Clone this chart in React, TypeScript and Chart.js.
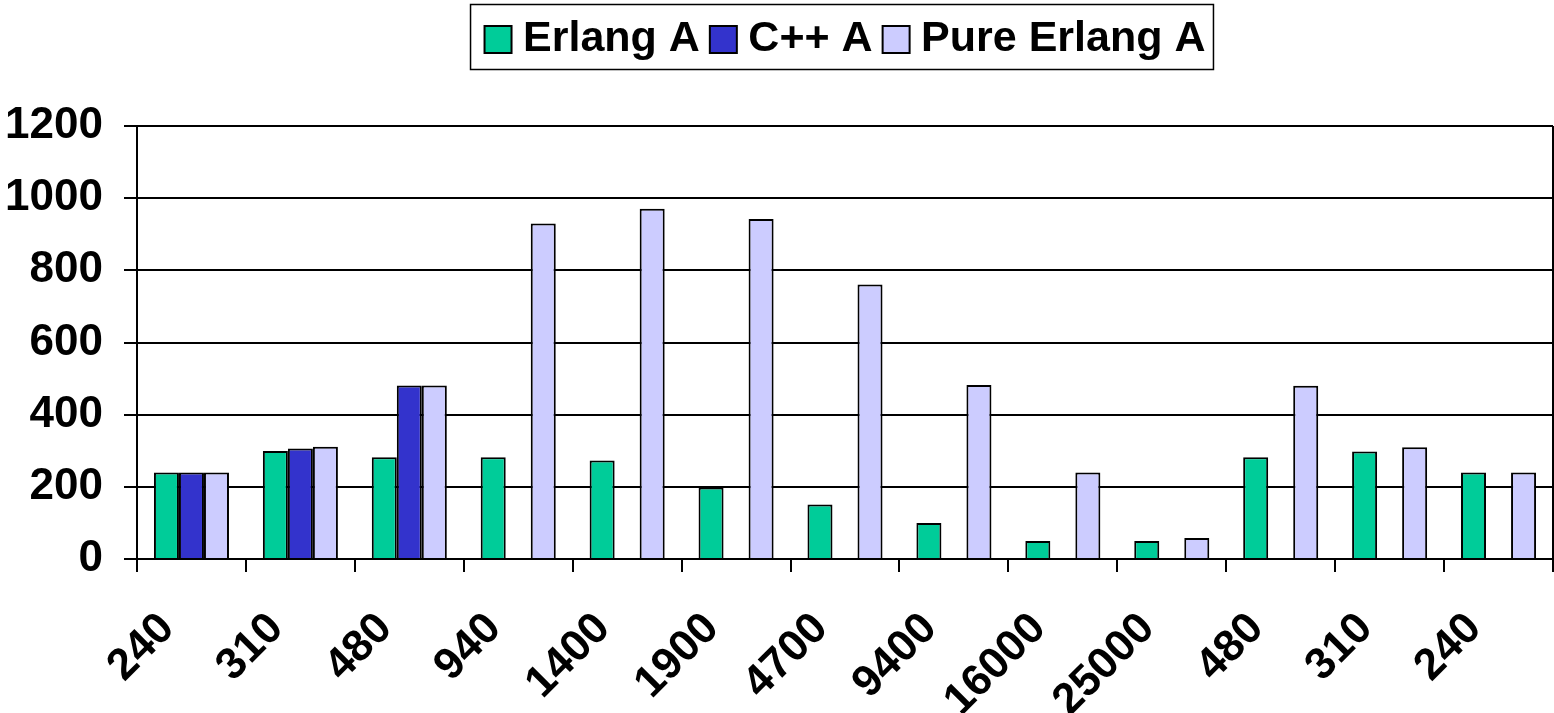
import React, { useEffect, useRef } from 'react';
import { Chart, registerables } from 'chart.js';

Chart.register(...registerables);

const categories = ['240', '310', '480', '940', '1400', '1900', '4700', '9400', '16000', '25000', '480', '310', '240'];
const erlangA = [240, 299, 282, 282, 273, 198, 151, 100, 50, 50, 282, 298, 240];
const cppA = [240, 306, 481, null, null, null, null, null, null, null, null, null, null];
const pureErlangA = [240, 311, 481, 930, 971, 942, 761, 482, 240, 58, 480, 310, 240];
const yTicks = [0, 200, 400, 600, 800, 1000, 1200];
const seriesNames = ['Erlang A', 'C++ A', 'Pure Erlang A'];
const seriesColors = ['#00CC99', '#3333CC', '#CCCCFF'];

const FONT = "'Liberation Sans', Arial, Helvetica, sans-serif";
const SWATCH = 27;

const legendSpacer = {
  id: 'legendSpacer',
  beforeInit(chart: any) {
    const legend = chart.legend;
    if (!legend) return;
    const origFit = legend.fit;
    legend.fit = function () {
      origFit.call(this);
      this.height += 55;
    };
  },
};

const frames = {
  id: 'frames',
  afterDraw(chart: any) {
    const ctx = chart.ctx;
    const ca = chart.chartArea;
    ctx.save();
    ctx.strokeStyle = '#000';
    ctx.lineWidth = 2;
    ctx.beginPath();
    ctx.moveTo(ca.right, ca.top);
    ctx.lineTo(ca.right, ca.bottom);
    ctx.stroke();
    const hb = chart.legend && chart.legend.legendHitBoxes;
    if (hb && hb.length) {
      const first = hb[0];
      const last = hb[hb.length - 1];
      // swatches
      hb.forEach((h: any, i: number) => {
        const y = h.top + (h.height - SWATCH) / 2;
        ctx.fillStyle = seriesColors[i];
        ctx.fillRect(h.left, y, SWATCH, SWATCH);
        ctx.lineWidth = 2;
        ctx.strokeRect(h.left, y, SWATCH, SWATCH);
      });
      const left = first.left - 14;
      const right = last.left + last.width + 8;
      const top = first.top - 13.5;
      const bottom = first.top + first.height + 8.5;
      ctx.lineWidth = 1.5;
      ctx.strokeRect(left, top, right - left, bottom - top);
    }
    ctx.restore();
  },
};

export default function App() {
  const ref = useRef<HTMLCanvasElement | null>(null);

  useEffect(() => {
    if (!ref.current) return;
    const datasets = [erlangA, cppA, pureErlangA].map((d, i) => ({
      label: seriesNames[i],
      data: d,
      backgroundColor: seriesColors[i],
      borderColor: '#000',
      borderWidth: 2,
      categoryPercentage: 0.689,
      barPercentage: 1.0,
    }));
    const chart = new Chart(ref.current, {
      type: 'bar',
      data: { labels: categories, datasets },
      plugins: [legendSpacer, frames],
      options: {
        animation: false,
        responsive: false,
        devicePixelRatio: 1,
        layout: { padding: { top: 8, left: 0, right: 1, bottom: 0 } },
        plugins: {
          tooltip: { enabled: false },
          legend: {
            position: 'top',
            fullSize: false,
            labels: {
              color: '#000',
              boxWidth: 17,
              boxHeight: SWATCH,
              padding: 10,
              font: { family: FONT, size: 43, weight: 'bold' },
              generateLabels: (chart: any) =>
                chart.data.datasets.map((ds: any, i: number) => ({
                  text: ds.label,
                  fillStyle: 'rgba(0,0,0,0)',
                  strokeStyle: 'rgba(0,0,0,0)',
                  lineWidth: 0,
                  fontColor: '#000',
                  hidden: false,
                  datasetIndex: i,
                })),
            },
          },
        },
        scales: {
          x: {
            afterFit: (s: any) => {
              s.height = 154;
              s.paddingLeft = 0;
              s.paddingRight = 0;
            },
            grid: {
              display: true,
              drawOnChartArea: false,
              drawTicks: true,
              offset: true,
              tickLength: 13,
              color: '#000',
              lineWidth: 2,
            },
            border: { display: true, color: '#000', width: 2 },
            ticks: {
              autoSkip: false,
              maxRotation: 45,
              minRotation: 45,
              padding: 31,
              labelOffset: -24,
              color: '#000',
              font: { family: FONT, size: 44, weight: 'bold' },
            },
          },
          y: {
            min: yTicks[0],
            max: yTicks[yTicks.length - 1],
            afterFit: (s: any) => {
              s.width = 137;
            },
            afterBuildTicks: (s: any) => {
              s.ticks = yTicks.map((v) => ({ value: v }));
            },
            grid: {
              color: '#000',
              lineWidth: 2,
              tickLength: 13,
              drawTicks: true,
            },
            border: { display: true, color: '#000', width: 2 },
            ticks: {
              autoSkip: false,
              padding: 21,
              color: '#000',
              font: { family: FONT, size: 44, weight: 'bold' },
              callback: (v: any) => String(v),
            },
          },
        },
      },
    } as any);
    return () => chart.destroy();
  }, []);

  return (
    <div style={{ position: 'absolute', left: 0, top: 0, width: 1554, height: 713, background: '#fff' }}>
      <canvas ref={ref} width={1554} height={713} style={{ display: 'block', width: 1554, height: 713 }} />
    </div>
  );
}
